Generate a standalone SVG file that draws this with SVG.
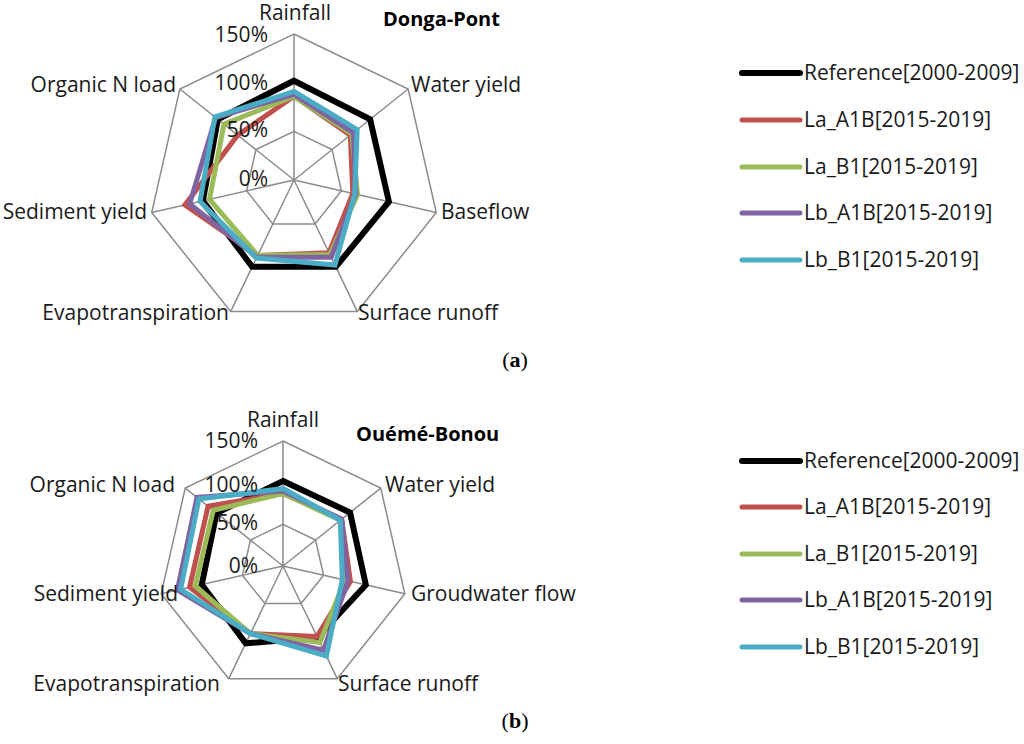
<svg xmlns="http://www.w3.org/2000/svg" width="1024" height="744" viewBox="0 0 1024 744">
<style>
.g{fill:none;stroke:#8c8c8c;stroke-width:1.5;vector-effect:non-scaling-stroke}
.s{fill:none;stroke-width:5;stroke-linejoin:miter;vector-effect:non-scaling-stroke}
.k{stroke:#000;stroke-width:6}.r{stroke:#C0504D}.gr{stroke:#9BBB59}.p{stroke:#8064A2}.c{stroke:#4BACC6}
text{font-family:"Open Sans","Liberation Sans",sans-serif;font-size:21px;fill:#1a1a1a}
.e{text-anchor:end}.m{text-anchor:middle}
.t{font-weight:bold;font-size:20px;fill:#000}
.cap{font-family:"Liberation Serif",serif;font-size:22px;fill:#000}
</style>
<defs>
<g id="grid">
<polygon class="g" points="0,-150 117.3,-93.5 146.2,33.4 65.1,135.2 -65.1,135.2 -146.2,33.4 -117.3,-93.5"/>
<polygon class="g" points="0,-100 78.2,-62.4 97.5,22.3 43.4,90.1 -43.4,90.1 -97.5,22.3 -78.2,-62.4"/>
<polygon class="g" points="0,-50 39.1,-31.2 48.7,11.1 21.7,45.1 -21.7,45.1 -48.7,11.1 -39.1,-31.2"/>
<path class="g" d="M0,0V-150M0,0L117.3,-93.5M0,0L146.2,33.4M0,0L65.1,135.2M0,0L-65.1,135.2M0,0L-146.2,33.4M0,0L-117.3,-93.5"/>
</g>
</defs>
<g id="chartA">
<g transform="translate(294,180) scale(0.9733)">
<use href="#grid"/>
<polygon class="s k" points="0,-102 78.2,-62.4 97.5,22.3 43.0,89.2 -43.0,89.2 -93.6,21.4 -78.2,-62.4"/>
<polygon class="s r" points="0,-86 57.9,-46.1 60.4,13.8 36.0,74.8 -37.3,77.5 -112.1,25.6 -57.9,-46.1"/>
<polygon class="s gr" points="0,-86 59.4,-47.4 65.3,14.9 36.9,76.6 -37.3,77.5 -86.8,19.8 -71.9,-57.4"/>
<polygon class="s p" points="0,-88 61.0,-48.6 63.4,14.5 38.2,79.3 -38.2,79.3 -107.2,24.5 -80.5,-64.2"/>
<polygon class="s c" points="0,-91 64.9,-51.8 62.4,14.2 42.1,87.4 -38.6,80.2 -96.5,22.0 -81.3,-64.8"/>
</g>
<text class="m" x="295" y="20">Rainfall</text>
<text class="e" x="268" y="42">150%</text>
<text class="e" x="268" y="90">100%</text>
<text class="e" x="268" y="137">50%</text>
<text class="e" x="268" y="186">0%</text>
<text x="411" y="92">Water yield</text>
<text x="441" y="219">Baseflow</text>
<text x="358" y="320">Surface runoff</text>
<text class="e" x="229" y="320">Evapotranspiration</text>
<text class="e" x="147" y="219">Sediment yield</text>
<text class="e" x="176" y="92">Organic N load</text>
<text class="t" x="383" y="26">Donga-Pont</text>
<text class="cap m" x="515" y="367">(<tspan font-weight="bold">a</tspan>)</text>
</g>
<g id="legendA">
<path class="s k" d="M742,73H800" stroke-linecap="round"/>
<path class="s r" d="M742,120H800" stroke-linecap="round"/>
<path class="s gr" d="M742,167H800" stroke-linecap="round"/>
<path class="s p" d="M742,213H800" stroke-linecap="round"/>
<path class="s c" d="M742,260H800" stroke-linecap="round"/>
<text x="804" y="80">Reference[2000-2009]</text>
<text x="804" y="127">La_A1B[2015-2019]</text>
<text x="804" y="174">La_B1[2015-2019]</text>
<text x="804" y="220">Lb_A1B[2015-2019]</text>
<text x="804" y="267">Lb_B1[2015-2019]</text>
</g>
<g id="chartB">
<g transform="translate(283,566) scale(0.8333)">
<use href="#grid"/>
<polygon class="s k" points="0,-102 80.5,-64.2 99.4,22.7 41.2,85.6 -44.7,92.8 -97.5,22.3 -79.7,-63.6"/>
<polygon class="s r" points="0,-87 70.4,-56.1 80.9,18.5 40.8,84.7 -39.1,81.1 -112.1,25.6 -89.9,-71.7"/>
<polygon class="s gr" points="0,-87 68.8,-54.9 74.1,16.9 44.3,91.9 -39.1,81.1 -105.3,24.0 -83.7,-66.7"/>
<polygon class="s p" points="0,-90 70.4,-56.1 78.0,17.8 48.6,100.9 -39.1,81.1 -126.7,28.9 -103.2,-82.3"/>
<polygon class="s c" points="0,-93 68.8,-54.9 71.2,16.2 52.1,108.1 -39.1,81.1 -122.8,28.0 -100.9,-80.4"/>
</g>
<text class="m" x="283" y="427">Rainfall</text>
<text class="e" x="258" y="448">150%</text>
<text class="e" x="258" y="492">100%</text>
<text class="e" x="258" y="530">50%</text>
<text class="e" x="258" y="573">0%</text>
<text x="385" y="492">Water yield</text>
<text x="411" y="601">Groudwater flow</text>
<text x="338" y="691">Surface runoff</text>
<text class="e" x="220" y="691">Evapotranspiration</text>
<text class="e" x="178" y="601">Sediment yield</text>
<text class="e" x="175" y="492">Organic N load</text>
<text class="t" x="356" y="441">Ouémé-Bonou</text>
<text class="cap m" x="515" y="728">(<tspan font-weight="bold">b</tspan>)</text>
</g>
<g id="legendB">
<path class="s k" d="M742,461H800" stroke-linecap="round"/>
<path class="s r" d="M742,507H800" stroke-linecap="round"/>
<path class="s gr" d="M742,554H800" stroke-linecap="round"/>
<path class="s p" d="M742,600H800" stroke-linecap="round"/>
<path class="s c" d="M742,647H800" stroke-linecap="round"/>
<text x="804" y="468">Reference[2000-2009]</text>
<text x="804" y="514">La_A1B[2015-2019]</text>
<text x="804" y="561">La_B1[2015-2019]</text>
<text x="804" y="607">Lb_A1B[2015-2019]</text>
<text x="804" y="654">Lb_B1[2015-2019]</text>
</g>
</svg>
